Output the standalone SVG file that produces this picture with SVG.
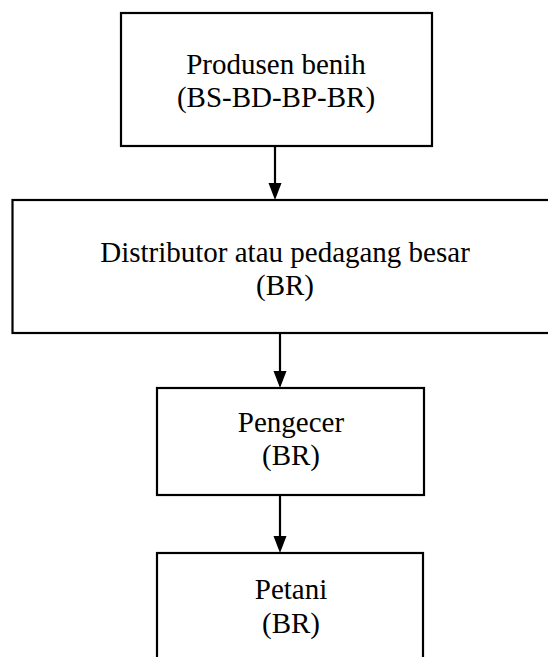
<svg xmlns="http://www.w3.org/2000/svg" width="548" height="657" viewBox="0 0 548 657">
<style>
.box{fill:#fff;stroke:#000;stroke-width:2.2}
.t{font-family:"Liberation Serif","Times New Roman",serif;font-size:29px;fill:#000;text-anchor:middle}
.c{stroke:#000;stroke-width:2.2;fill:none}
</style>
<defs>
<marker id="ah" markerUnits="userSpaceOnUse" markerWidth="14" markerHeight="18" refX="7" refY="17" orient="auto-start-reverse" viewBox="0 0 14 18">
<path d="M0,0 L14,0 L7,17 Z" fill="#000"/>
</marker>
</defs>
<rect width="548" height="657" fill="#fff"/>
<g id="connectors">
<path class="c" d="M275,146 V183"/>
<path d="M268.5,183 L281.5,183 L275,200 Z" fill="#000"/>
<path class="c" d="M280,333 V371"/>
<path d="M273.5,371 L286.5,371 L280,388 Z" fill="#000"/>
<path class="c" d="M280,495 V536"/>
<path d="M273.5,536 L286.5,536 L280,553 Z" fill="#000"/>
</g>
<g id="produsen">
<rect class="box" x="121" y="13" width="311" height="133"/>
<text class="t" x="276" y="74">Produsen benih</text>
<text class="t" x="276" y="107">(BS-BD-BP-BR)</text>
</g>
<g id="distributor">
<rect class="box" x="12.5" y="200" width="545" height="133"/>
<text class="t" x="285" y="262">Distributor atau pedagang besar</text>
<text class="t" x="285" y="295">(BR)</text>
</g>
<g id="pengecer">
<rect class="box" x="157" y="388" width="267" height="107"/>
<text class="t" x="291" y="432">Pengecer</text>
<text class="t" x="291" y="465">(BR)</text>
</g>
<g id="petani">
<rect class="box" x="157" y="553" width="266" height="120"/>
<text class="t" x="291" y="599">Petani</text>
<text class="t" x="291" y="633">(BR)</text>
</g>
</svg>
